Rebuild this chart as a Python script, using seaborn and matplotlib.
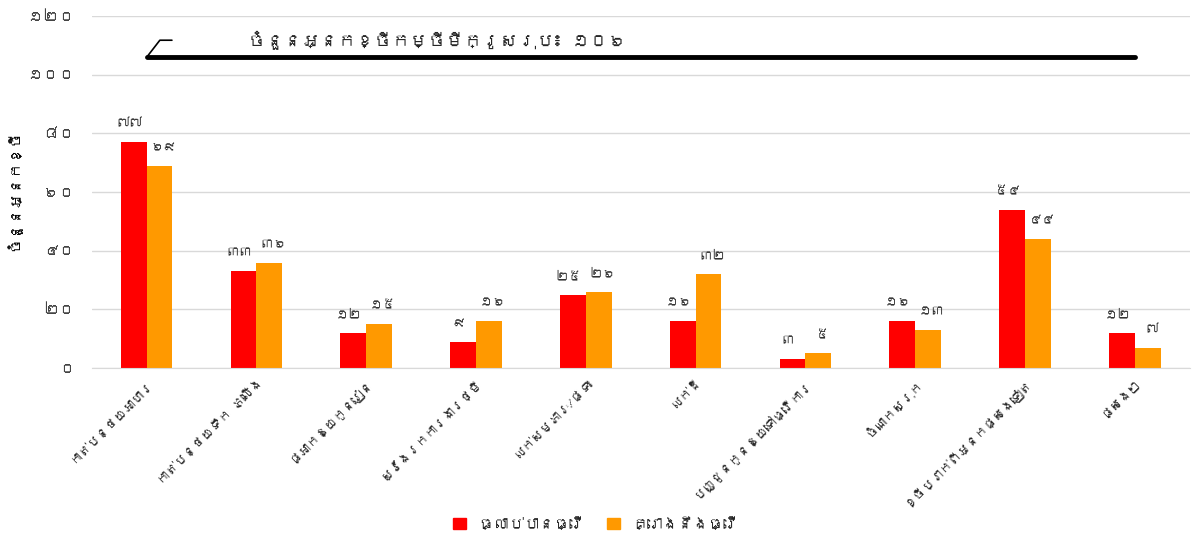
import numpy as np
import pandas as pd
import matplotlib
matplotlib.use("Agg")
import matplotlib.pyplot as plt
import seaborn as sns
from matplotlib import font_manager
from matplotlib.ft2font import FT2Font


categories = ["កាត់បន្ថយអាហារ", "កាត់បន្ថយទឹក ភ្លើង", "ផ្អាកឱ្យកូនរៀន", "ស្វែងរកការងារថ្មី",
              "លក់សម្ភារៈ/ផ្ទះ", "លក់ដី", "បញ្ជូនកូនឱ្យទៅធ្វើការ", "ចំណាកស្រុក",
              "ខ្ចីប្រាក់ពីអ្នកផ្សេងទៀត", "ផ្សេងៗ"]
done = [77, 33, 12, 9, 25, 16, 3, 16, 54, 12]
planned = [69, 36, 15, 16, 26, 32, 5, 13, 44, 7]
series_names = ["ធ្លាប់បានធ្វើ", "គ្រោងនឹងធ្វើ"]
y_ticks = [0, 20, 40, 60, 80, 100, 120]
total_borrowers = 106
y_label = "ចំនួនអ្នកខ្ចី"
note_text = "ចំនួនអ្នកខ្ចីកម្ចីមីក្រូសរុប៖ "


def khmer_num(n):
    digits = "០១២៣៤៥៦៧៨៩"
    return "".join(digits[int(c)] for c in str(n))


# look for any installed font that has Khmer glyphs
def find_khmer_font():
    for f in font_manager.fontManager.ttflist:
        try:
            if 0x1780 in FT2Font(f.fname).get_charmap():
                return f.name
        except Exception:
            pass
    return None


sns.set_style("white")
kh = find_khmer_font()
families = [kh, "DejaVu Sans"] if kh else ["DejaVu Sans"]
plt.rcParams["font.family"] = families

df = pd.DataFrame({
    "cat": categories * 2,
    "val": done + planned,
    "series": [series_names[0]] * len(done) + [series_names[1]] * len(planned),
})

fig = plt.figure(figsize=(11.92, 5.39), dpi=100)
ax = fig.add_axes([0.077, 0.317, 0.921, 0.653])

sns.barplot(data=df, x="cat", y="val", hue="series", order=categories,
            palette=["#ff0000", "#ff9900"], saturation=1, width=0.47, gap=0, ax=ax,
            edgecolor="none", legend=False)

# value labels, red nudged left and orange nudged right a little
for cont, dx in zip(ax.containers, [-3, 3]):
    for b in cont:
        h = b.get_height()
        ax.annotate(khmer_num(int(h)), (b.get_x() + b.get_width() / 2, h),
                    xytext=(dx, 9), textcoords="offset points",
                    ha="center", va="bottom", fontsize=9.5, color="#333333")

# total line + callout
ax.plot([0, len(categories) - 1], [total_borrowers, total_borrowers], color="black", lw=3.5,
        solid_capstyle="round", zorder=3)
ax.plot([0, 0.12, 0.23], [total_borrowers, 111.8, 111.8], color="black", lw=1.2, zorder=3)
ax.text(0.92, 111.8, note_text + khmer_num(total_borrowers), fontsize=13, va="center", ha="left")

ax.set_xlim(-0.5, len(categories) - 0.5)
ax.set_ylim(0, 120)
ax.set_yticks(y_ticks)
ax.set_yticklabels([khmer_num(t) for t in y_ticks], fontsize=11.5, color="#444444")
ax.yaxis.grid(True, color="#d9d9d9", lw=1)
ax.set_axisbelow(True)
ax.tick_params(axis="both", length=0)
ax.tick_params(axis="y", pad=12)
ax.tick_params(axis="x", pad=6)
ax.set_xticks(range(len(categories)))
ax.set_xticklabels(categories, rotation=45, ha="right", rotation_mode="anchor", fontsize=9)
ax.set_xlabel("")
ax.set_ylabel(y_label, fontsize=11, fontweight="bold", color="black")
ax.yaxis.set_label_coords(-0.064, 0.506)

for s in ["top", "right", "left"]:
    ax.spines[s].set_visible(False)
ax.spines["bottom"].set_color("#d9d9d9")

handles = [plt.Rectangle((0, 0), 1, 1, color=c) for c in ["#ff0000", "#ff9900"]]
fig.legend(handles, series_names, loc="center", bbox_to_anchor=(0.5, 0.028), ncol=2,
           frameon=False, fontsize=11, handlelength=0.8, handleheight=0.8, columnspacing=1.5)

fig.savefig("out.png", dpi=100)
